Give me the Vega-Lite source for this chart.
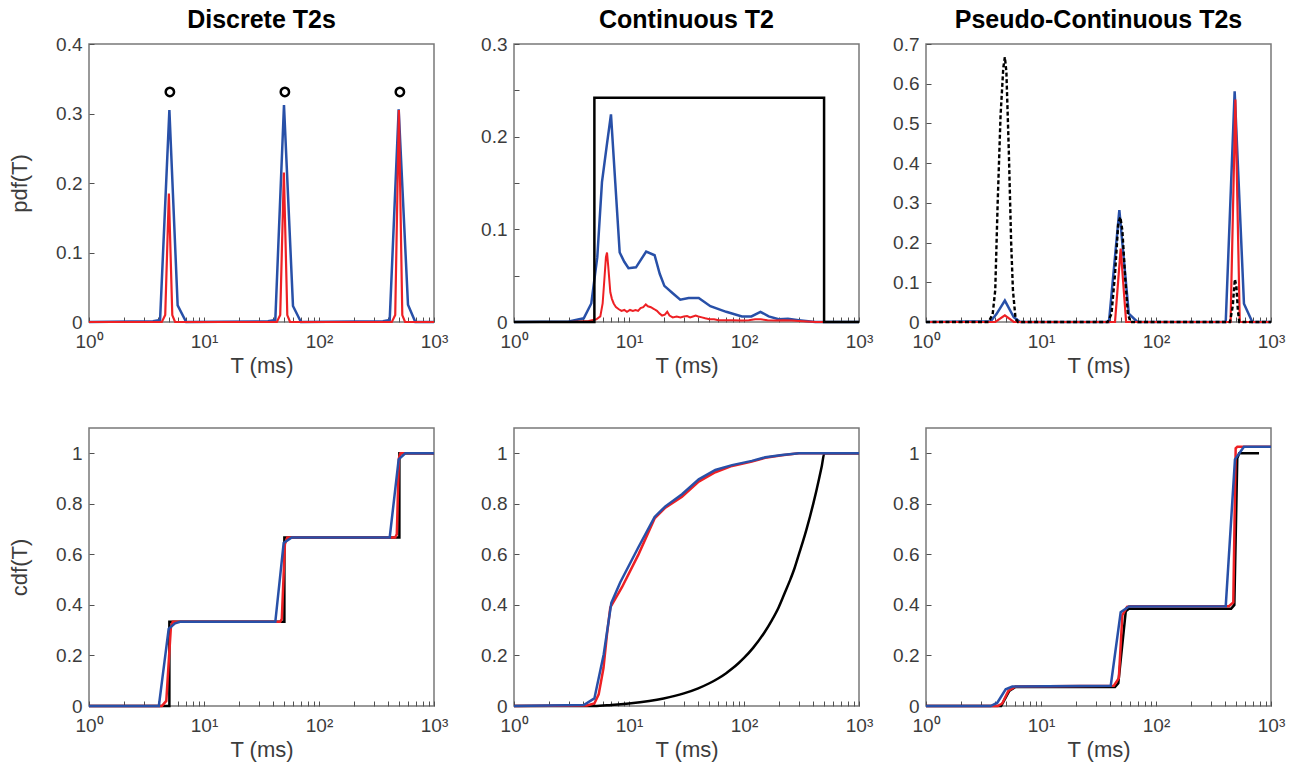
{
"$schema":"https://vega.github.io/schema/vega-lite/v6.json",
"padding":{"left":7,"top":7,"right":5,"bottom":5},
"autosize":{"type":"pad"},
"background":"white",
"datasets":{
"d1":[
{"s":"b","T":1,"v":0},{"s":"b","T":3.6,"v":0.001},{"s":"b","T":4.15,"v":0.003},{"s":"b","T":5.0,"v":0.305},{"s":"b","T":5.9,"v":0.024},{"s":"b","T":7.0,"v":0},{"s":"b","T":36,"v":0.001},{"s":"b","T":41.7,"v":0.003},{"s":"b","T":49.6,"v":0.312},{"s":"b","T":59.4,"v":0.023},{"s":"b","T":69.7,"v":0},{"s":"b","T":360,"v":0.001},{"s":"b","T":412,"v":0.003},{"s":"b","T":493,"v":0.306},{"s":"b","T":594,"v":0.025},{"s":"b","T":688,"v":0},{"s":"b","T":1000,"v":0},
{"s":"r","T":1,"v":0},{"s":"r","T":4.3,"v":0},{"s":"r","T":4.6,"v":0.01},{"s":"r","T":4.95,"v":0.185},{"s":"r","T":5.3,"v":0.01},{"s":"r","T":5.6,"v":0},{"s":"r","T":43,"v":0},{"s":"r","T":46,"v":0.01},{"s":"r","T":49.5,"v":0.215},{"s":"r","T":53,"v":0.01},{"s":"r","T":56,"v":0},{"s":"r","T":430,"v":0},{"s":"r","T":460,"v":0.01},{"s":"r","T":495,"v":0.305},{"s":"r","T":530,"v":0.01},{"s":"r","T":560,"v":0},{"s":"r","T":1000,"v":0},
{"s":"o","T":5.05,"v":0.331},{"s":"o","T":50.5,"v":0.331},{"s":"o","T":505,"v":0.331}
],
"d2":[
{"s":"b","T":1,"v":0},{"s":"b","T":3,"v":0.0005},{"s":"b","T":4.04,"v":0.004},{"s":"b","T":4.7,"v":0.02},{"s":"b","T":5.3,"v":0.07},{"s":"b","T":5.82,"v":0.151},{"s":"b","T":6.4,"v":0.19},{"s":"b","T":6.97,"v":0.224},{"s":"b","T":7.6,"v":0.15},{"s":"b","T":8.3,"v":0.075},{"s":"b","T":9.1,"v":0.065},{"s":"b","T":9.9,"v":0.058},{"s":"b","T":11.5,"v":0.059},{"s":"b","T":14.1,"v":0.076},{"s":"b","T":16.7,"v":0.072},{"s":"b","T":18.5,"v":0.052},{"s":"b","T":20.3,"v":0.039},{"s":"b","T":24,"v":0.031},{"s":"b","T":27.9,"v":0.024},{"s":"b","T":33,"v":0.026},{"s":"b","T":40.4,"v":0.026},{"s":"b","T":51,"v":0.017},{"s":"b","T":70,"v":0.011},{"s":"b","T":96,"v":0.006},{"s":"b","T":116,"v":0.006},{"s":"b","T":139,"v":0.011},{"s":"b","T":164,"v":0.006},{"s":"b","T":200,"v":0.003},{"s":"b","T":241,"v":0.0035},{"s":"b","T":299,"v":0.002},{"s":"b","T":417,"v":0},{"s":"b","T":1000,"v":0},
{"s":"r","T":1,"v":0},{"s":"r","T":3,"v":0},{"s":"r","T":4.46,"v":0.001},{"s":"r","T":5.2,"v":0.003},{"s":"r","T":5.63,"v":0.006},{"s":"r","T":5.9,"v":0.02},{"s":"r","T":6.1,"v":0.045},{"s":"r","T":6.3,"v":0.07},{"s":"r","T":6.44,"v":0.075},{"s":"r","T":6.6,"v":0.06},{"s":"r","T":6.88,"v":0.032},{"s":"r","T":7.1,"v":0.025},{"s":"r","T":7.36,"v":0.02},{"s":"r","T":7.7,"v":0.016},{"s":"r","T":8.1,"v":0.014},{"s":"r","T":8.6,"v":0.012},{"s":"r","T":9.1,"v":0.013},{"s":"r","T":9.6,"v":0.011},{"s":"r","T":10.2,"v":0.013},{"s":"r","T":10.8,"v":0.012},{"s":"r","T":11.4,"v":0.013},{"s":"r","T":12.0,"v":0.012},{"s":"r","T":12.6,"v":0.015},{"s":"r","T":13.3,"v":0.016},{"s":"r","T":14.0,"v":0.019},{"s":"r","T":14.6,"v":0.017},{"s":"r","T":15.5,"v":0.016},{"s":"r","T":16.5,"v":0.014},{"s":"r","T":17.5,"v":0.012},{"s":"r","T":18.5,"v":0.009},{"s":"r","T":19.4,"v":0.007},{"s":"r","T":20.5,"v":0.008},{"s":"r","T":21.5,"v":0.011},{"s":"r","T":22.5,"v":0.007},{"s":"r","T":24,"v":0.005},{"s":"r","T":26,"v":0.006},{"s":"r","T":28,"v":0.005},{"s":"r","T":30,"v":0.006},{"s":"r","T":32,"v":0.0065},{"s":"r","T":34,"v":0.005},{"s":"r","T":36,"v":0.006},{"s":"r","T":38,"v":0.007},{"s":"r","T":40,"v":0.006},{"s":"r","T":43,"v":0.005},{"s":"r","T":46,"v":0.004},{"s":"r","T":50,"v":0.003},{"s":"r","T":55,"v":0.003},{"s":"r","T":60,"v":0.002},{"s":"r","T":70,"v":0.002},{"s":"r","T":80,"v":0.002},{"s":"r","T":95,"v":0.0015},{"s":"r","T":110,"v":0.002},{"s":"r","T":125,"v":0.003},{"s":"r","T":140,"v":0.003},{"s":"r","T":160,"v":0.002},{"s":"r","T":190,"v":0.0015},{"s":"r","T":220,"v":0.002},{"s":"r","T":260,"v":0.0015},{"s":"r","T":300,"v":0.001},{"s":"r","T":420,"v":0},{"s":"r","T":1000,"v":0},
{"s":"k","T":1,"v":0},{"s":"k","T":5,"v":0},{"s":"k","T":5,"v":0.242},{"s":"k","T":497,"v":0.242},{"s":"k","T":497,"v":0},{"s":"k","T":1000,"v":0}
],
"d3":[
{"s":"b","T":1,"v":0},{"s":"b","T":3.65,"v":0.002},{"s":"b","T":4.1,"v":0.02},{"s":"b","T":4.85,"v":0.054},{"s":"b","T":5.8,"v":0.012},{"s":"b","T":6.6,"v":0},{"s":"b","T":39,"v":0},{"s":"b","T":48,"v":0.282},{"s":"b","T":58,"v":0.021},{"s":"b","T":69,"v":0},{"s":"b","T":404,"v":0},{"s":"b","T":483,"v":0.581},{"s":"b","T":582,"v":0.046},{"s":"b","T":688,"v":0},{"s":"b","T":1000,"v":0},
{"s":"r","T":1,"v":0},{"s":"r","T":4.0,"v":0},{"s":"r","T":4.85,"v":0.017},{"s":"r","T":5.8,"v":0},{"s":"r","T":44,"v":0},{"s":"r","T":49.3,"v":0.185},{"s":"r","T":55,"v":0},{"s":"r","T":445,"v":0},{"s":"r","T":490,"v":0.56},{"s":"r","T":535,"v":0},{"s":"r","T":1000,"v":0},
{"s":"k","T":1,"v":0},{"s":"k","T":3.5,"v":0},{"s":"k","T":3.8,"v":0.02},{"s":"k","T":4.0,"v":0.08},{"s":"k","T":4.2,"v":0.3},{"s":"k","T":4.45,"v":0.52},{"s":"k","T":4.7,"v":0.64},{"s":"k","T":4.85,"v":0.667},{"s":"k","T":5.0,"v":0.63},{"s":"k","T":5.25,"v":0.43},{"s":"k","T":5.5,"v":0.2},{"s":"k","T":5.7,"v":0.08},{"s":"k","T":6.0,"v":0.01},{"s":"k","T":6.3,"v":0},{"s":"k","T":38,"v":0},{"s":"k","T":41,"v":0.02},{"s":"k","T":44,"v":0.12},{"s":"k","T":47,"v":0.25},{"s":"k","T":49,"v":0.264},{"s":"k","T":51,"v":0.23},{"s":"k","T":54,"v":0.11},{"s":"k","T":57,"v":0.02},{"s":"k","T":60,"v":0},{"s":"k","T":440,"v":0},{"s":"k","T":465,"v":0.04},{"s":"k","T":485,"v":0.108},{"s":"k","T":500,"v":0.09},{"s":"k","T":515,"v":0.03},{"s":"k","T":530,"v":0},{"s":"k","T":1000,"v":0}
],
"d4":[
{"s":"k","T":1,"v":0},{"s":"k","T":5,"v":0},{"s":"k","T":5,"v":0.333},{"s":"k","T":50,"v":0.333},{"s":"k","T":50,"v":0.667},{"s":"k","T":500,"v":0.667},{"s":"k","T":500,"v":1},{"s":"k","T":1000,"v":1},
{"s":"r","T":1,"v":0},{"s":"r","T":4.3,"v":0},{"s":"r","T":4.7,"v":0.02},{"s":"r","T":5.15,"v":0.31},{"s":"r","T":5.35,"v":0.333},{"s":"r","T":46,"v":0.333},{"s":"r","T":47.5,"v":0.345},{"s":"r","T":50.5,"v":0.64},{"s":"r","T":53,"v":0.667},{"s":"r","T":460,"v":0.667},{"s":"r","T":475,"v":0.68},{"s":"r","T":495,"v":0.98},{"s":"r","T":510,"v":1.0},{"s":"r","T":1000,"v":1.0},
{"s":"b","T":1,"v":0},{"s":"b","T":4.05,"v":0},{"s":"b","T":4.93,"v":0.305},{"s":"b","T":5.6,"v":0.327},{"s":"b","T":6.2,"v":0.333},{"s":"b","T":41.7,"v":0.333},{"s":"b","T":49.3,"v":0.645},{"s":"b","T":58,"v":0.667},{"s":"b","T":412,"v":0.667},{"s":"b","T":493,"v":0.976},{"s":"b","T":563,"v":1.0},{"s":"b","T":1000,"v":1.0}
],
"d5":[
{"s":"k","T":1,"v":0},{"s":"k","T":5,"v":0},{"s":"k","T":7,"v":0.004},{"s":"k","T":10,"v":0.01},{"s":"k","T":15,"v":0.02},{"s":"k","T":20,"v":0.03},{"s":"k","T":25,"v":0.04},{"s":"k","T":30,"v":0.05},{"s":"k","T":40,"v":0.07},{"s":"k","T":50,"v":0.09},{"s":"k","T":60,"v":0.11},{"s":"k","T":70,"v":0.13},{"s":"k","T":80,"v":0.15},{"s":"k","T":90,"v":0.17},{"s":"k","T":100,"v":0.19},{"s":"k","T":120,"v":0.23},{"s":"k","T":150,"v":0.29},{"s":"k","T":175,"v":0.34},{"s":"k","T":200,"v":0.39},{"s":"k","T":225,"v":0.445},{"s":"k","T":250,"v":0.495},{"s":"k","T":275,"v":0.545},{"s":"k","T":300,"v":0.6},{"s":"k","T":325,"v":0.65},{"s":"k","T":350,"v":0.7},{"s":"k","T":375,"v":0.75},{"s":"k","T":400,"v":0.8},{"s":"k","T":425,"v":0.85},{"s":"k","T":450,"v":0.9},{"s":"k","T":475,"v":0.95},{"s":"k","T":500,"v":1.0},{"s":"k","T":1000,"v":1.0},
{"s":"r","T":1,"v":0},{"s":"r","T":4.3,"v":0.002},{"s":"r","T":5.0,"v":0.01},{"s":"r","T":5.45,"v":0.046},{"s":"r","T":6.0,"v":0.15},{"s":"r","T":6.44,"v":0.285},{"s":"r","T":6.88,"v":0.39},{"s":"r","T":8.69,"v":0.47},{"s":"r","T":12.1,"v":0.6},{"s":"r","T":16.7,"v":0.742},{"s":"r","T":20.7,"v":0.785},{"s":"r","T":28.9,"v":0.828},{"s":"r","T":40.4,"v":0.888},{"s":"r","T":56.3,"v":0.925},{"s":"r","T":78.7,"v":0.95},{"s":"r","T":117,"v":0.967},{"s":"r","T":153,"v":0.982},{"s":"r","T":214,"v":0.992},{"s":"r","T":300,"v":1.0},{"s":"r","T":1000,"v":1.0},
{"s":"b","T":1,"v":0},{"s":"b","T":4.04,"v":0.004},{"s":"b","T":5.0,"v":0.03},{"s":"b","T":6.03,"v":0.205},{"s":"b","T":7.02,"v":0.408},{"s":"b","T":8.4,"v":0.49},{"s":"b","T":12.1,"v":0.629},{"s":"b","T":16.7,"v":0.748},{"s":"b","T":20.7,"v":0.79},{"s":"b","T":28.9,"v":0.838},{"s":"b","T":40.4,"v":0.897},{"s":"b","T":56.3,"v":0.934},{"s":"b","T":78.7,"v":0.953},{"s":"b","T":117,"v":0.97},{"s":"b","T":153,"v":0.984},{"s":"b","T":214,"v":0.993},{"s":"b","T":300,"v":1.0},{"s":"b","T":1000,"v":1.0}
],
"d6":[
{"s":"k","T":1,"v":0},{"s":"k","T":4.5,"v":0},{"s":"k","T":5.3,"v":0.06},{"s":"k","T":6.0,"v":0.075},{"s":"k","T":44,"v":0.075},{"s":"k","T":47,"v":0.09},{"s":"k","T":54.6,"v":0.375},{"s":"k","T":58,"v":0.385},{"s":"k","T":450,"v":0.385},{"s":"k","T":480,"v":0.4},{"s":"k","T":509,"v":0.98},{"s":"k","T":530,"v":1.0},{"s":"k","T":787,"v":1.0},
{"s":"r","T":1,"v":0},{"s":"r","T":4.2,"v":0},{"s":"r","T":4.6,"v":0.01},{"s":"r","T":5.2,"v":0.06},{"s":"r","T":6.0,"v":0.077},{"s":"r","T":43,"v":0.08},{"s":"r","T":47.5,"v":0.11},{"s":"r","T":51,"v":0.36},{"s":"r","T":56,"v":0.392},{"s":"r","T":60,"v":0.395},{"s":"r","T":430,"v":0.395},{"s":"r","T":470,"v":0.41},{"s":"r","T":493,"v":1.02},{"s":"r","T":510,"v":1.026},{"s":"r","T":1000,"v":1.026},
{"s":"b","T":1,"v":0},{"s":"b","T":3.65,"v":0},{"s":"b","T":4.17,"v":0.013},{"s":"b","T":4.93,"v":0.066},{"s":"b","T":5.63,"v":0.077},{"s":"b","T":40.4,"v":0.08},{"s":"b","T":49.3,"v":0.371},{"s":"b","T":58.2,"v":0.394},{"s":"b","T":404,"v":0.395},{"s":"b","T":486,"v":0.976},{"s":"b","T":582,"v":1.026},{"s":"b","T":1000,"v":1.026}
]
},
"vconcat":[
{"hconcat":[
 {"hconcat":[
  {"width":345,"height":278,"title":"Discrete T2s","data":{"name":"d1"},
   "encoding":{
    "x":{"field":"T","type":"quantitative","scale":{"type":"log","domain":[1,1000],"nice":false},"axis":{"title":"T (ms)","values":[1,2,3,4,5,6,7,8,9,10,20,30,40,50,60,70,80,90,100,200,300,400,500,600,700,800,900,1000],"labelExpr":"datum.value==1?'10⁰':datum.value==10?'10¹':datum.value==100?'10²':datum.value==1000?'10³':''"}},
    "y":{"field":"v","type":"quantitative","scale":{"domain":[0,0.4],"nice":false},"axis":{"title":"pdf(T)","values":[0,0.1,0.2,0.3,0.4],"format":"~g"}}},
   "layer":[
    {"transform":[{"filter":"datum.s=='b'"}],"mark":{"type":"line","color":"#2850a8","strokeWidth":2.5},"encoding":{"order":{"value":null}}},
    {"transform":[{"filter":"datum.s=='r'"}],"mark":{"type":"line","color":"#ee2024","strokeWidth":2.2},"encoding":{"order":{"value":null}}},
    {"transform":[{"filter":"datum.s=='o'"}],"mark":{"type":"point","shape":"circle","filled":false,"color":"#000000","strokeWidth":2.5,"size":70,"opacity":1}}
   ]},
  {"width":345,"height":278,"title":"Continuous T2","data":{"name":"d2"},
   "encoding":{
    "x":{"field":"T","type":"quantitative","scale":{"type":"log","domain":[1,1000],"nice":false},"axis":{"title":"T (ms)","values":[1,2,3,4,5,6,7,8,9,10,20,30,40,50,60,70,80,90,100,200,300,400,500,600,700,800,900,1000],"labelExpr":"datum.value==1?'10⁰':datum.value==10?'10¹':datum.value==100?'10²':datum.value==1000?'10³':''"}},
    "y":{"field":"v","type":"quantitative","scale":{"domain":[0,0.3],"nice":false},"axis":{"title":null,"values":[0,0.05,0.1,0.15,0.2,0.25,0.3],"labelExpr":"abs(round(datum.value*10)-datum.value*10)<0.001 ? format(datum.value,'~g') : ''"}}},
   "layer":[
    {"transform":[{"filter":"datum.s=='b'"}],"mark":{"type":"line","color":"#2850a8","strokeWidth":2.5},"encoding":{"order":{"value":null}}},
    {"transform":[{"filter":"datum.s=='r'"}],"mark":{"type":"line","color":"#ee2024","strokeWidth":2},"encoding":{"order":{"value":null}}},
    {"transform":[{"filter":"datum.s=='k'"}],"mark":{"type":"line","color":"#000000","strokeWidth":2.5,"strokeJoin":"miter"},"encoding":{"order":{"value":null}}}
   ]}
 ],"spacing":80,"bounds":"flush"},
 {"width":345,"height":278,"title":"Pseudo-Continuous T2s","data":{"name":"d3"},
   "encoding":{
    "x":{"field":"T","type":"quantitative","scale":{"type":"log","domain":[1,1000],"nice":false},"axis":{"title":"T (ms)","values":[1,2,3,4,5,6,7,8,9,10,20,30,40,50,60,70,80,90,100,200,300,400,500,600,700,800,900,1000],"labelExpr":"datum.value==1?'10⁰':datum.value==10?'10¹':datum.value==100?'10²':datum.value==1000?'10³':''"}},
    "y":{"field":"v","type":"quantitative","scale":{"domain":[0,0.7],"nice":false},"axis":{"title":null,"values":[0,0.1,0.2,0.3,0.4,0.5,0.6,0.7],"format":"~g"}}},
   "layer":[
    {"transform":[{"filter":"datum.s=='b'"}],"mark":{"type":"line","color":"#2850a8","strokeWidth":2.5},"encoding":{"order":{"value":null}}},
    {"transform":[{"filter":"datum.s=='r'"}],"mark":{"type":"line","color":"#ee2024","strokeWidth":2.2},"encoding":{"order":{"value":null}}},
    {"transform":[{"filter":"datum.s=='k'"}],"mark":{"type":"line","color":"#000000","strokeWidth":2.4,"strokeDash":[4,2.5]},"encoding":{"order":{"value":null}}}
   ]}
],"spacing":17},
{"hconcat":[
 {"hconcat":[
  {"width":345,"height":278,"data":{"name":"d4"},
   "encoding":{
    "x":{"field":"T","type":"quantitative","scale":{"type":"log","domain":[1,1000],"nice":false},"axis":{"title":"T (ms)","values":[1,2,3,4,5,6,7,8,9,10,20,30,40,50,60,70,80,90,100,200,300,400,500,600,700,800,900,1000],"labelExpr":"datum.value==1?'10⁰':datum.value==10?'10¹':datum.value==100?'10²':datum.value==1000?'10³':''"}},
    "y":{"field":"v","type":"quantitative","scale":{"domain":[0,1.1],"nice":false},"axis":{"title":"cdf(T)","values":[0,0.2,0.4,0.6,0.8,1],"format":"~g"}}},
   "layer":[
    {"transform":[{"filter":"datum.s=='k'"}],"mark":{"type":"line","color":"#000000","strokeWidth":2.5},"encoding":{"order":{"value":null}}},
    {"transform":[{"filter":"datum.s=='r'"}],"mark":{"type":"line","color":"#ee2024","strokeWidth":2.5},"encoding":{"order":{"value":null}}},
    {"transform":[{"filter":"datum.s=='b'"}],"mark":{"type":"line","color":"#2850a8","strokeWidth":2.5},"encoding":{"order":{"value":null}}}
   ]},
  {"width":345,"height":278,"data":{"name":"d5"},
   "encoding":{
    "x":{"field":"T","type":"quantitative","scale":{"type":"log","domain":[1,1000],"nice":false},"axis":{"title":"T (ms)","values":[1,2,3,4,5,6,7,8,9,10,20,30,40,50,60,70,80,90,100,200,300,400,500,600,700,800,900,1000],"labelExpr":"datum.value==1?'10⁰':datum.value==10?'10¹':datum.value==100?'10²':datum.value==1000?'10³':''"}},
    "y":{"field":"v","type":"quantitative","scale":{"domain":[0,1.1],"nice":false},"axis":{"title":null,"values":[0,0.2,0.4,0.6,0.8,1],"format":"~g"}}},
   "layer":[
    {"transform":[{"filter":"datum.s=='k'"}],"mark":{"type":"line","color":"#000000","strokeWidth":2.5,"interpolate":"monotone"},"encoding":{"order":{"value":null}}},
    {"transform":[{"filter":"datum.s=='r'"}],"mark":{"type":"line","color":"#ee2024","strokeWidth":2.5},"encoding":{"order":{"value":null}}},
    {"transform":[{"filter":"datum.s=='b'"}],"mark":{"type":"line","color":"#2850a8","strokeWidth":2.5},"encoding":{"order":{"value":null}}}
   ]}
 ],"spacing":80,"bounds":"flush"},
 {"width":345,"height":278,"data":{"name":"d6"},
   "encoding":{
    "x":{"field":"T","type":"quantitative","scale":{"type":"log","domain":[1,1000],"nice":false},"axis":{"title":"T (ms)","values":[1,2,3,4,5,6,7,8,9,10,20,30,40,50,60,70,80,90,100,200,300,400,500,600,700,800,900,1000],"labelExpr":"datum.value==1?'10⁰':datum.value==10?'10¹':datum.value==100?'10²':datum.value==1000?'10³':''"}},
    "y":{"field":"v","type":"quantitative","scale":{"domain":[0,1.1],"nice":false},"axis":{"title":null,"values":[0,0.2,0.4,0.6,0.8,1],"format":"~g"}}},
   "layer":[
    {"transform":[{"filter":"datum.s=='k'"}],"mark":{"type":"line","color":"#000000","strokeWidth":2.5},"encoding":{"order":{"value":null}}},
    {"transform":[{"filter":"datum.s=='r'"}],"mark":{"type":"line","color":"#ee2024","strokeWidth":2.5},"encoding":{"order":{"value":null}}},
    {"transform":[{"filter":"datum.s=='b'"}],"mark":{"type":"line","color":"#2850a8","strokeWidth":2.5},"encoding":{"order":{"value":null}}}
   ]}
],"spacing":17}
],
"spacing":50,
"config":{
 "font":"Liberation Sans",
 "view":{"stroke":"#787878","strokeWidth":1.5},
 "axis":{"grid":false,"domain":false,"ticks":true,"tickSize":-5,"tickColor":"#505050","tickWidth":1,"labelFont":"Liberation Sans","labelFontSize":19,"labelColor":"#3c3c3c","titleFont":"Liberation Sans","titleFontSize":22,"titleFontWeight":"normal","titleColor":"#3c3c3c","labelFlush":false,"labelOverlap":false,"labelBound":false},
 "axisX":{"labelPadding":15,"titlePadding":4},
 "axisY":{"labelPadding":12,"titlePadding":24},
 "title":{"font":"Liberation Sans","fontSize":25,"fontWeight":"bold","color":"#000000","offset":2}
}
}
